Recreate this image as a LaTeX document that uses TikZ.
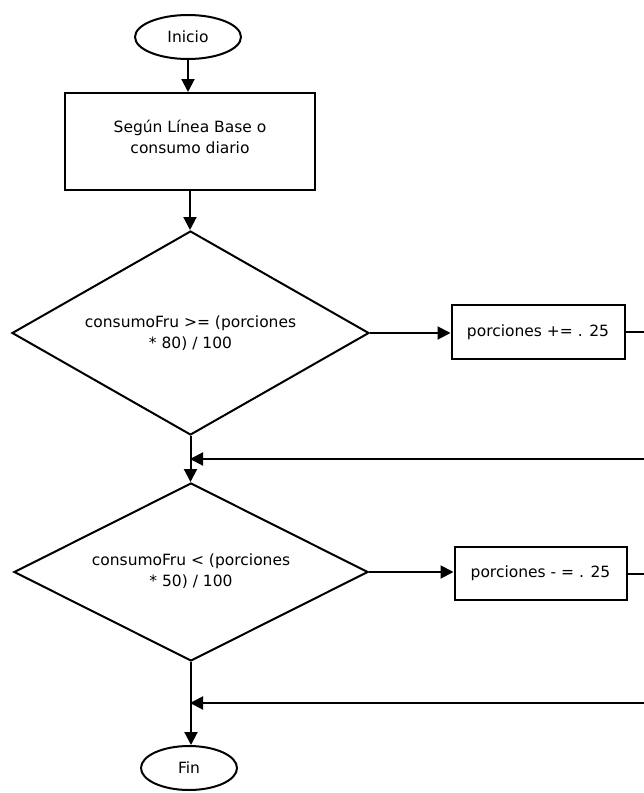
\documentclass[tikz,border=0pt]{standalone}
\usepackage{fontspec}
\setmainfont{DejaVu Sans}
\usetikzlibrary{shapes.geometric,arrows.meta}
\begin{document}
\begin{tikzpicture}[x=1pt,y=-1pt,
  line width=2pt,
  every node/.style={font=\fontsize{15.5}{21}\selectfont, align=center, inner sep=0pt},
  term/.style={draw, ellipse, minimum width=#1, minimum height=44},
  procbox/.style={draw, rectangle},
  decision/.style={draw, diamond},
  arr/.style={-{Triangle[length=13pt,width=13pt]}}]
  \useasboundingbox (0,0) rectangle (644,793);

  % nodes
  \node[term=106] (inicio) at (188,37) {Inicio};
  \node[procbox, minimum width=250, minimum height=97] (base) at (190,141.5) {};
  \node at (190,137) {Según Línea Base o\\consumo diario};
  \node[decision, minimum width=357, minimum height=204] (d1) at (190.5,333) {};
  \node at (d1.center) {consumoFru >= (porciones\\* 80) / 100};
  \node[procbox, minimum width=173, minimum height=54] (inc) at (538,332) {porciones += . 25};
  \node[decision, minimum width=354, minimum height=178] (d2) at (191,572) {};
  \node at ([yshift=1pt]d2.center) {consumoFru < (porciones\\* 50) / 100};
  \node[procbox, minimum width=172, minimum height=53] (dec) at (540.5,573.5) {porciones - = . 25};
  \node[term=96] (fin) at (189,768) {Fin};

  % junctions and off-page ends
  \coordinate (j1) at (190,459);
  \coordinate (j2) at (190,703);
  \coordinate (e1) at (644,332);
  \coordinate (r1) at (644,459);
  \coordinate (e2) at (644,573.5);
  \coordinate (r2) at (644,703);

  % connectors
  \draw[arr] (inicio.south) -- (inicio.south |- base.north);
  \draw[arr] (base.south) -- (base.south |- d1.north);
  \draw[arr] (d1.east) -- (d1.east -| inc.west);
  \draw (inc.east) -- (inc.east -| e1);
  \draw[arr] (d1.south) -- (d1.south |- d2.north);
  \draw[arr] (r1) -- (j1);
  \draw[arr] (d2.east) -- (d2.east -| dec.west);
  \draw (dec.east) -- (e2);
  \draw[arr] (d2.south) -- (d2.south |- fin.north);
  \draw[arr] (r2) -- (j2);
\end{tikzpicture}
\end{document}
